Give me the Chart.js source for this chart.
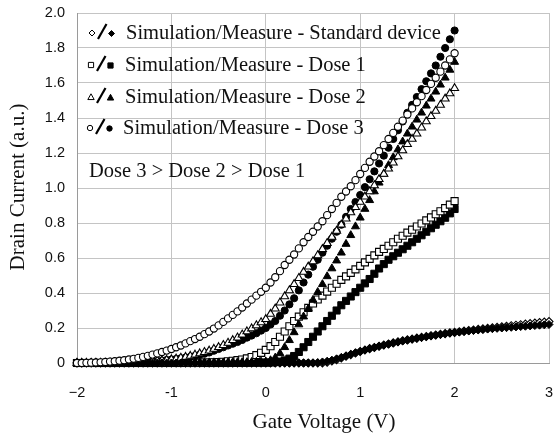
<!DOCTYPE html>
<html><head><meta charset="utf-8">
<script src="https://cdn.jsdelivr.net/npm/chart.js@4"></script>
<style>html,body{margin:0;padding:0;background:#fff}</style>
</head><body>
<canvas id="c" width="557" height="437"></canvas>
<script>
// Gate voltage (V), one marker every 0.05 V
const gateVoltage = [
 -2.00,-1.95,-1.90,-1.85,-1.80,-1.75,-1.70,-1.65,-1.60,-1.55,
 -1.50,-1.45,-1.40,-1.35,-1.30,-1.25,-1.20,-1.15,-1.10,-1.05,
 -1.00,-0.95,-0.90,-0.85,-0.80,-0.75,-0.70,-0.65,-0.60,-0.55,
 -0.50,-0.45,-0.40,-0.35,-0.30,-0.25,-0.20,-0.15,-0.10,-0.05,
  0.00, 0.05, 0.10, 0.15, 0.20, 0.25, 0.30, 0.35, 0.40, 0.45,
  0.50, 0.55, 0.60, 0.65, 0.70, 0.75, 0.80, 0.85, 0.90, 0.95,
  1.00, 1.05, 1.10, 1.15, 1.20, 1.25, 1.30, 1.35, 1.40, 1.45,
  1.50, 1.55, 1.60, 1.65, 1.70, 1.75, 1.80, 1.85, 1.90, 1.95,
  2.00, 2.05, 2.10, 2.15, 2.20, 2.25, 2.30, 2.35, 2.40, 2.45,
  2.50, 2.55, 2.60, 2.65, 2.70, 2.75, 2.80, 2.85, 2.90, 2.95,
  3.00];

const dose3Sim = [
 0,0,0.001,0.002,0.003,0.004,0.006,0.008,0.010,0.013,
 0.016,0.020,0.024,0.029,0.035,0.041,0.048,0.055,0.063,0.071,
 0.080,0.090,0.100,0.112,0.125,0.137,0.150,0.165,0.180,0.197,
 0.215,0.235,0.255,0.275,0.295,0.317,0.340,0.362,0.385,0.407,
 0.430,0.460,0.490,0.525,0.560,0.590,0.620,0.655,0.690,0.720,
 0.750,0.780,0.810,0.845,0.880,0.915,0.950,0.980,1.010,1.045,
 1.080,1.115,1.150,1.180,1.210,1.245,1.280,1.315,1.350,1.385,
 1.420,1.455,1.490,1.525,1.560,1.595,1.630,1.665,1.700,1.735,
 1.770];
const dose3Meas = [
 0,0,0,0,0,0.001,0.001,0.002,0.002,0.003,
 0.003,0.004,0.005,0.006,0.007,0.008,0.009,0.011,0.014,0.017,
 0.020,0.023,0.027,0.031,0.035,0.041,0.047,0.053,0.060,0.070,
 0.080,0.090,0.100,0.110,0.120,0.132,0.145,0.157,0.170,0.185,
 0.200,0.220,0.240,0.270,0.300,0.335,0.370,0.415,0.460,0.505,
 0.550,0.590,0.630,0.670,0.710,0.750,0.790,0.835,0.880,0.920,
 0.960,1.005,1.050,1.095,1.140,1.185,1.230,1.280,1.330,1.380,
 1.430,1.475,1.520,1.565,1.610,1.655,1.700,1.750,1.800,1.850,
 1.900];
const dose2Sim = [
 0,0,0,0,0.001,0.001,0.001,0.002,0.002,0.003,
 0.003,0.004,0.005,0.006,0.007,0.008,0.010,0.012,0.014,0.017,
 0.020,0.024,0.029,0.034,0.040,0.047,0.054,0.062,0.070,0.080,
 0.090,0.102,0.115,0.130,0.145,0.162,0.180,0.197,0.215,0.232,
 0.250,0.280,0.310,0.345,0.380,0.415,0.450,0.485,0.520,0.550,
 0.580,0.615,0.650,0.685,0.720,0.755,0.790,0.825,0.860,0.890,
 0.920,0.950,0.980,1.015,1.050,1.080,1.110,1.145,1.180,1.215,
 1.250,1.280,1.310,1.345,1.380,1.410,1.440,1.475,1.510,1.540,
 1.570];
const dose2Meas = [
 0,0,0,0,0,0,0,0,0,0,
 0,0,0,0.001,0.001,0.001,0.001,0.001,0.001,0.001,
 0.001,0.001,0.002,0.002,0.002,0.002,0.002,0.002,0.003,0.003,
 0.003,0.003,0.003,0.004,0.004,0.004,0.004,0.005,0.006,0.007,
 0.008,0.015,0.030,0.055,0.090,0.130,0.175,0.220,0.265,0.310,
 0.360,0.405,0.450,0.495,0.540,0.585,0.630,0.680,0.730,0.780,
 0.830,0.880,0.930,0.980,1.030,1.080,1.130,1.175,1.220,1.265,
 1.310,1.350,1.390,1.430,1.470,1.510,1.550,1.590,1.630,1.675,
 1.720];
const dose1Sim = [
 0,0,0,0,0,0,0,0,0,0,
 0,0,0,0,0,0,0,0,0,0,
 0,0.001,0.001,0.001,0.002,0.002,0.002,0.003,0.003,0.004,
 0.005,0.007,0.010,0.013,0.016,0.020,0.026,0.034,0.045,0.058,
 0.075,0.096,0.120,0.150,0.180,0.210,0.240,0.265,0.290,0.315,
 0.340,0.363,0.385,0.408,0.430,0.453,0.475,0.495,0.515,0.535,
 0.555,0.575,0.595,0.615,0.635,0.652,0.670,0.690,0.710,0.727,
 0.745,0.762,0.780,0.797,0.815,0.832,0.850,0.867,0.885,0.905,
 0.925];
const dose1Meas = [
 0,0,0,0,0,0,0,0,0,0,
 0,0,0,0,0,0,0,0,0,0,
 0,0,0,0,0,0,0,0,0,0,
 0,0,0,0.001,0.001,0.001,0.001,0.002,0.002,0.002,
 0.002,0.003,0.005,0.008,0.015,0.025,0.040,0.063,0.090,0.120,
 0.150,0.180,0.210,0.240,0.270,0.300,0.330,0.355,0.380,0.405,
 0.430,0.455,0.480,0.510,0.540,0.565,0.590,0.610,0.630,0.650,
 0.670,0.690,0.710,0.730,0.750,0.770,0.790,0.810,0.830,0.855,
 0.880];
const stdSim = [
 0,0,0,0,0,0,0,0,0,0,
 0,0,0,0,0,0,0,0,0,0,
 0,0,0,0,0,0,0,0,0,0,
 0,0,0,0,0,0,0,0,0,0,
 0,0,0,0,0,0,0,0,0,0,
 0,0,0,0.005,0.011,0.019,0.029,0.039,0.048,0.057,
 0.066,0.074,0.082,0.089,0.096,0.103,0.109,0.115,0.121,0.127,
 0.132,0.137,0.142,0.147,0.151,0.156,0.160,0.164,0.168,0.172,
 0.175,0.179,0.182,0.186,0.189,0.192,0.195,0.198,0.201,0.204,
 0.207,0.210,0.213,0.216,0.219,0.222,0.225,0.228,0.231,0.234,
 0.237];
const stdMeas = [
 0,0,0,0,0,0,0,0,0,0,
 0,0,0,0,0,0,0,0,0,0,
 0,0,0,0,0,0,0,0,0,0,
 0,0,0,0,0,0,0,0,0,0,
 0,0,0,0,0,0,0,0,0,0,
 0,0.002,0.006,0.010,0.016,0.024,0.032,0.041,0.050,0.058,
 0.066,0.074,0.082,0.089,0.096,0.102,0.108,0.114,0.120,0.126,
 0.131,0.136,0.141,0.146,0.150,0.155,0.159,0.163,0.167,0.171,
 0.174,0.177,0.180,0.183,0.186,0.189,0.191,0.194,0.196,0.198,
 0.200,0.202,0.204,0.206,0.208,0.210,0.212,0.214,0.216,0.218,
 0.220];

const xTickLabels = ['\u22122','-1','0','1','2','3'];
const yTickLabels = ['0','0.2','0.4','0.6','0.8','1.0','1.2','1.4','1.6','1.8','2.0'];
const legendLabels = [
 'Simulation/Measure - Standard device',
 'Simulation/Measure - Dose 1',
 'Simulation/Measure - Dose 2',
 'Simulation/Measure - Dose 3'];
const noteText = 'Dose 3 > Dose 2 > Dose 1';
const xTitle = 'Gate Voltage (V)';
const yTitle = 'Drain Current (a.u.)';

const pts = arr => arr.map((y, i) => ({x: gateVoltage[i], y}));
function ds(label, arr, style, radius, open, order) {
  return {
    label, data: pts(arr), showLine: false, clip: false, order,
    pointStyle: style, pointRadius: radius, pointHoverRadius: radius,
    pointBackgroundColor: open ? '#ffffff' : '#000000',
    pointBorderColor: '#000000', pointBorderWidth: open ? 1.1 : 1
  };
}

const datasets = [
  ds('Simulation - Dose 3', dose3Sim, 'circle', 3.6, true, 0),
  ds('Measure - Standard device', stdMeas, 'rectRot', 4, false, 1),
  ds('Simulation - Dose 2', dose2Sim, 'triangle', 4.6, true, 2),
  ds('Measure - Dose 3', dose3Meas, 'circle', 3.6, false, 3),
  ds('Measure - Dose 2', dose2Meas, 'triangle', 4.6, false, 4),
  ds('Simulation - Dose 1', dose1Sim, 'rect', 5, true, 5),
  ds('Measure - Dose 1', dose1Meas, 'rect', 5, false, 6),
  ds('Simulation - Standard device', stdSim, 'rectRot', 4, true, 7)
];

function marker(ctx, style, x, y, r, filled) {
  ctx.beginPath();
  if (style === 'circle') ctx.arc(x, y, r, 0, Math.PI * 2);
  else if (style === 'rect') ctx.rect(x - r, y - r, 2 * r, 2 * r);
  else if (style === 'rectRot') { ctx.moveTo(x, y - r); ctx.lineTo(x + r, y); ctx.lineTo(x, y + r); ctx.lineTo(x - r, y); ctx.closePath(); }
  else if (style === 'triangle') { ctx.moveTo(x, y - r); ctx.lineTo(x + r, y + r * 0.8); ctx.lineTo(x - r, y + r * 0.8); ctx.closePath(); }
  ctx.fillStyle = filled ? '#000' : '#fff';
  ctx.fill();
  ctx.lineWidth = 1; ctx.strokeStyle = '#000'; ctx.stroke();
}

const annotations = {
  id: 'annotations',
  afterDraw(chart) {
    const ctx = chart.ctx;
    ctx.save();
    ctx.fillStyle = '#111';
    ctx.textBaseline = 'middle';
    ctx.font = '21px "Liberation Serif"';
    ctx.textAlign = 'center';
    ctx.fillText(xTitle, 324, 422);
    ctx.save();
    ctx.translate(18, 187);
    ctx.rotate(-Math.PI / 2);
    ctx.fillText(yTitle, 0, 0);
    ctx.restore();
    // legend
    const styles = ['rectRot', 'rect', 'triangle', 'circle'];
    const sizes = [3, 2.6, 3.2, 2.7];
    const rows = [33, 65, 97, 128];
    const textX = [126, 125, 125, 123];
    const symX = [92, 91, 91, 90];
    ctx.font = '20.5px "Liberation Serif"';
    ctx.textAlign = 'left';
    for (let i = 0; i < 4; i++) {
      const y = rows[i], sx = symX[i];
      marker(ctx, styles[i], sx, y, sizes[i], false);
      ctx.beginPath();
      ctx.moveTo(sx + 6, y + 6);
      ctx.lineTo(sx + 14.5, y - 9);
      ctx.lineWidth = 2.2; ctx.strokeStyle = '#000'; ctx.stroke();
      marker(ctx, styles[i], sx + 19.5, y + 0.5, sizes[i], true);
      ctx.fillStyle = '#111';
      ctx.fillText(legendLabels[i], textX[i], y + 1);
    }
    ctx.fillText(noteText, 89, 172);
    ctx.restore();
  }
};

new Chart(document.getElementById('c'), {
  type: 'scatter',
  data: { datasets },
  options: {
    responsive: false, animation: false, devicePixelRatio: 1,
    layout: { padding: { top: 13, right: 8, left: 0, bottom: 0 } },
    plugins: { legend: { display: false }, tooltip: { enabled: false } },
    scales: {
      x: {
        type: 'linear', min: -2, max: 3,
        ticks: { stepSize: 1, maxRotation: 0, padding: 21, color: '#111',
          font: { family: 'Liberation Sans', size: 14.5 },
          callback: (v, i) => xTickLabels[i] },
        grid: { color: '#c4c4c4', drawTicks: false },
        border: { color: '#9a9a9a' },
        afterFit(s) { s.height = 74; s.paddingLeft = 0; s.paddingRight = 0; }
      },
      y: {
        min: 0, max: 2,
        ticks: { stepSize: 0.2, padding: 12, color: '#111',
          font: { family: 'Liberation Sans', size: 14.5 },
          callback: (v, i) => yTickLabels[i] },
        grid: { color: '#c4c4c4', drawTicks: false },
        border: { color: '#9a9a9a' },
        afterFit(s) { s.width = 77; s.paddingTop = 0; s.paddingBottom = 0; }
      }
    }
  },
  plugins: [annotations]
});
</script>
</body></html>
